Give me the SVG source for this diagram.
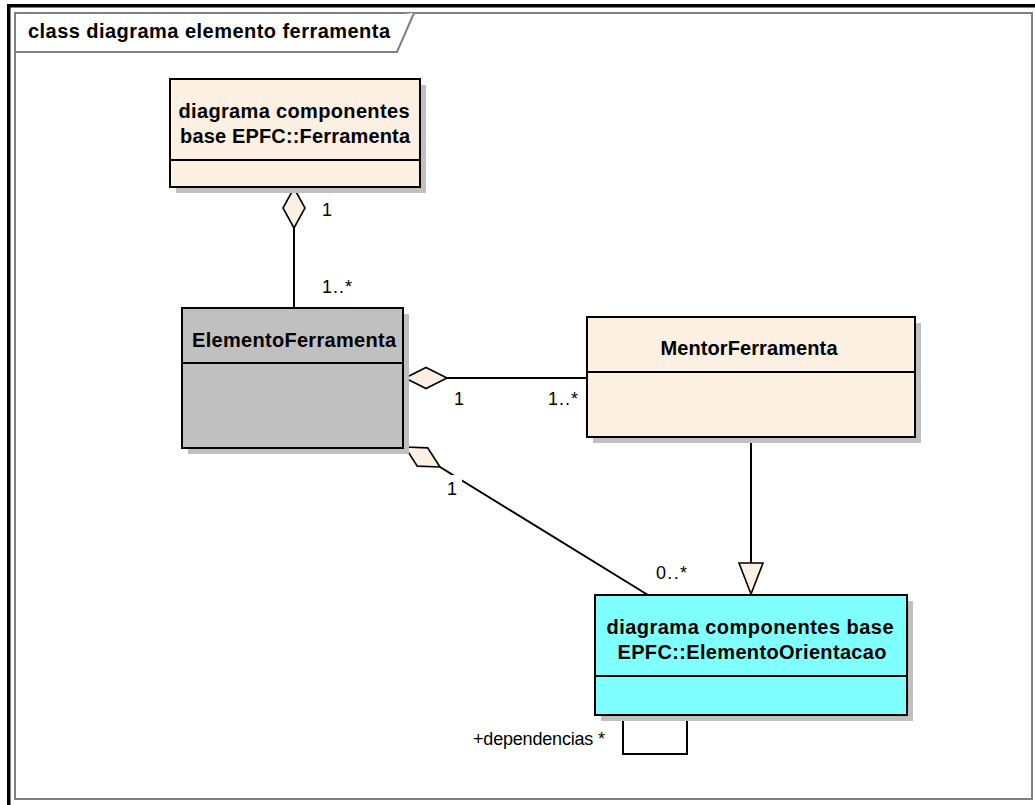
<svg xmlns="http://www.w3.org/2000/svg" width="1035" height="805" viewBox="0 0 1035 805">
  <style>
    .frame { fill: #ffffff; stroke: #808080; stroke-width: 2; }
    .edge { fill: none; stroke: #000000; stroke-width: 2; }
    .box { stroke: #000000; stroke-width: 2; }
    .head { stroke: #000000; stroke-width: 1.6; }
    .shadow { fill: #c0c0c0; stroke: none; }
    .sep { stroke: #000000; stroke-width: 2; }
    .cream { fill: #fbf0e2; }
    .grey { fill: #c0c0c0; }
    .cyan { fill: #80ffff; }
    .title { font-family: "Liberation Sans", Arial, sans-serif; font-size: 20px; font-weight: bold; fill: #000000; }
    .name { font-family: "Liberation Sans", Arial, sans-serif; font-size: 20px; font-weight: bold; fill: #000000; text-anchor: middle; }
    .lbl { font-family: "Liberation Sans", Arial, sans-serif; font-size: 18px; fill: #000000; }
  </style>

  <!-- page background and outer border -->
  <rect x="0" y="0" width="1035" height="805" fill="#ffffff"/>
  <rect x="7" y="4" width="1028" height="3.5" fill="#000000"/>
  <rect x="7" y="4" width="3.5" height="801" fill="#000000"/>

  <!-- diagram frame with name tab -->
  <rect class="frame" x="15" y="13" width="1017" height="786"/>
  <path class="frame" d="M15,52 H397 L414,13" fill="none"/>
  <text class="title" x="28" y="38" textLength="362" lengthAdjust="spacing">class diagrama elemento ferramenta</text>

  <!-- connectors -->
  <g id="connectors">
    <!-- Ferramenta <>— ElementoFerramenta -->
    <line class="edge" x1="294" y1="228" x2="294" y2="308"/>
    <polygon class="head cream" points="294,188 305,208 294,228 283,208"/>
    <text class="lbl" x="322" y="216">1</text>
    <text class="lbl" x="322" y="293" textLength="30" lengthAdjust="spacing">1..*</text>

    <!-- ElementoFerramenta <>— MentorFerramenta -->
    <line class="edge" x1="447" y1="378" x2="587" y2="378"/>
    <polygon class="head cream" points="405,378 426,367.5 447,378 426,388.5"/>
    <text class="lbl" x="454" y="405">1</text>
    <text class="lbl" x="548" y="405" textLength="30" lengthAdjust="spacing">1..*</text>

    <!-- ElementoFerramenta <>— ElementoOrientacao -->
    <line class="edge" x1="440" y1="467" x2="648" y2="595"/>
    <polygon class="head cream" points="405,447 427.7,447.9 440,467 417.3,466.1"/>
    <rect x="445" y="475" width="17" height="22" fill="#ffffff"/>
    <text class="lbl" x="447" y="495">1</text>
    <text class="lbl" x="656" y="579" textLength="31" lengthAdjust="spacing">0..*</text>

    <!-- MentorFerramenta generalizes ElementoOrientacao -->
    <line class="edge" x1="751" y1="437" x2="751" y2="563"/>
    <polygon class="head cream" points="739,563 763,563 751,594"/>

    <!-- self association on ElementoOrientacao -->
    <path class="edge" d="M623,715 V754 H687 V715"/>
    <text class="lbl" x="473" y="745" textLength="132" lengthAdjust="spacing">+dependencias *</text>
  </g>

  <!-- classes -->
  <g id="node-ferramenta">
    <rect class="shadow" x="176" y="85" width="250" height="108"/>
    <rect class="box cream" x="170" y="79" width="250" height="108"/>
    <line class="sep" x1="170" y1="160" x2="420" y2="160"/>
    <text class="name" x="294" y="118" textLength="231" lengthAdjust="spacing">diagrama componentes</text>
    <text class="name" x="295" y="143" textLength="230" lengthAdjust="spacing">base EPFC::Ferramenta</text>
  </g>

  <g id="node-elementoferramenta">
    <rect class="shadow" x="188" y="314" width="221" height="140"/>
    <rect class="box grey" x="182" y="308" width="221" height="140"/>
    <line class="sep" x1="182" y1="363" x2="403" y2="363"/>
    <text class="name" x="294" y="347" textLength="204" lengthAdjust="spacing">ElementoFerramenta</text>
  </g>

  <g id="node-mentorferramenta">
    <rect class="shadow" x="593" y="323" width="328" height="120"/>
    <rect class="box cream" x="587" y="317" width="328" height="120"/>
    <line class="sep" x1="587" y1="372" x2="915" y2="372"/>
    <text class="name" x="749" y="355" textLength="177" lengthAdjust="spacing">MentorFerramenta</text>
  </g>

  <g id="node-elementoorientacao">
    <rect class="shadow" x="601" y="601" width="312" height="120"/>
    <rect class="box cyan" x="595" y="595" width="312" height="120"/>
    <line class="sep" x1="595" y1="676" x2="907" y2="676"/>
    <text class="name" x="750" y="634" textLength="287" lengthAdjust="spacing">diagrama componentes base</text>
    <text class="name" x="752" y="659" textLength="269" lengthAdjust="spacing">EPFC::ElementoOrientacao</text>
  </g>
</svg>
